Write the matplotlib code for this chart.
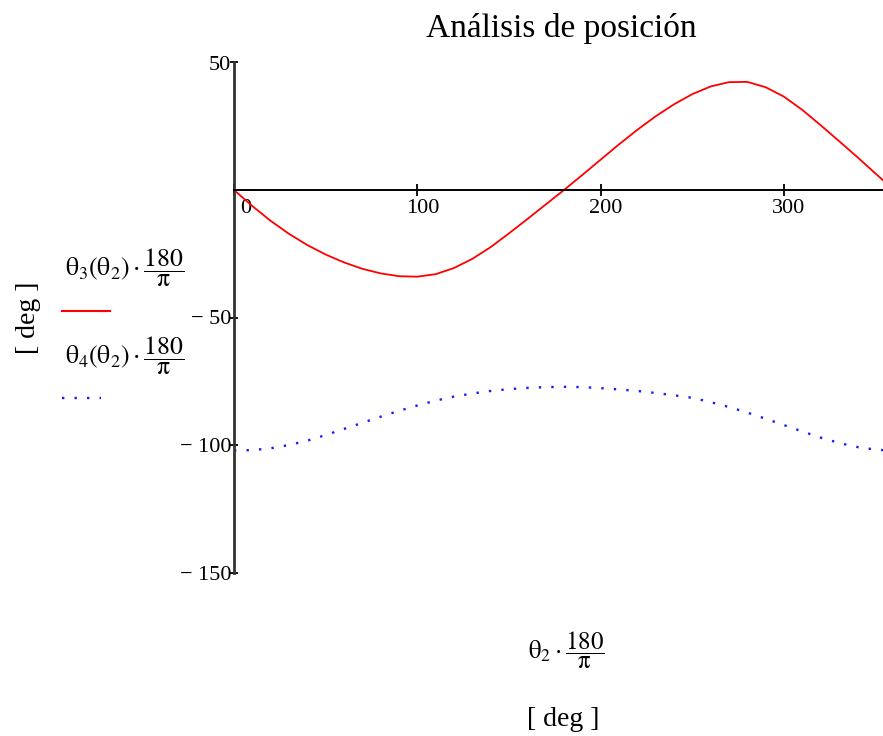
import numpy as np
import matplotlib.pyplot as plt
from matplotlib.lines import Line2D
from matplotlib.transforms import ScaledTranslation

plt.rcParams['font.family'] = ['Liberation Serif', 'DejaVu Serif']
plt.rcParams['mathtext.fontset'] = 'stix'

# theta2 in degrees
theta2 = [0, 10, 20, 30, 40, 50, 60, 70, 80, 90, 100, 110, 120, 130, 140, 150,
          160, 170, 180, 190, 200, 210, 220, 230, 240, 250, 260, 270, 280, 290,
          300, 310, 320, 330, 340, 350, 360]
# theta3 in degrees (red)
theta3 = [0, -6.3, -12.1, -17.2, -21.6, -25.3, -28.4, -30.9, -32.7, -33.8, -34.0,
          -33.0, -30.6, -27.0, -22.4, -17.0, -11.4, -5.7, 0, 5.9, 11.9, 17.9,
          23.6, 28.9, 33.6, 37.6, 40.6, 42.3, 42.4, 40.3, 36.6, 31.4, 25.4,
          19.2, 12.9, 6.4, 0]
# theta4 in degrees (blue)
theta4 = [-102.2, -102.0, -101.3, -100.0, -98.3, -96.1, -93.7, -91.3, -88.9,
          -86.6, -84.5, -82.6, -81.0, -79.8, -78.8, -78.1, -77.6, -77.3, -77.2,
          -77.3, -77.7, -78.2, -78.8, -79.6, -80.5, -81.5, -83.2, -85.1, -87.3,
          -89.7, -92.2, -94.7, -97.1, -99.2, -100.8, -101.8, -102.3]

yticks = [50, -50, -100, -150]
ytick_labels = ['50', '\u2212 50', '\u2212 100', '\u2212 150']
xticks = [0, 100, 200, 300]
xtick_labels = ['0', '100', '200', '300']

W, H = 883, 736
fig = plt.figure(figsize=(W / 100, H / 100), dpi=100)
ax = fig.add_axes([234 / W, 1 - 572.5 / H, (W - 234) / W, 510 / H])

dots = (0, (1, 4.3))
ax.plot(theta2, theta3, color='red', lw=1.3)
ax.plot(theta2, theta4, color='#1a1aff', lw=1.7, linestyle=dots)

ax.set_xlim(0, 354)
ax.set_ylim(-150, 50)

# axes drawn through the origin, Mathcad style
ax.spines['top'].set_visible(False)
ax.spines['right'].set_visible(False)
ax.spines['bottom'].set_position(('data', 0))
ax.spines['bottom'].set_linewidth(1.4)
ax.spines['left'].set_linewidth(2.0)
ax.spines['left'].set_color('#333333')

ax.set_yticks(yticks, ytick_labels)
ax.set_xticks(xticks, xtick_labels)
ax.tick_params(axis='y', direction='inout', length=6, width=1.3, pad=-1,
               labelsize=16)
ax.tick_params(axis='x', direction='inout', length=9, width=1.3, pad=2,
               labelsize=16)

# tick labels sit a little right of their ticks
for lbl in ax.get_xticklabels():
    dx = 12 if lbl.get_text() == '0' else 5
    lbl.set_transform(lbl.get_transform() + ScaledTranslation(dx / 100, 0, fig.dpi_scale_trans))

fig.text(561 / W, 1 - 28 / H, 'Análisis de posición', fontsize=24,
         ha='center', va='center')

# legend on the left
fig.text(65 / W, 1 - 268 / H,
         r'$\mathrm{\theta}_3(\mathrm{\theta}_2)\cdot\dfrac{180}{\mathrm{\pi}}$',
         fontsize=18.5, ha='left', va='center')
fig.add_artist(Line2D([62 / W, 110 / W], [1 - 311 / H, 1 - 311 / H],
                      color='red', lw=1.5))
fig.text(65 / W, 1 - 356 / H,
         r'$\mathrm{\theta}_4(\mathrm{\theta}_2)\cdot\dfrac{180}{\mathrm{\pi}}$',
         fontsize=18.5, ha='left', va='center')
fig.add_artist(Line2D([62 / W, 101 / W], [1 - 398 / H, 1 - 398 / H],
                      color='#1a1aff', lw=1.7, linestyle=dots))
fig.text(29 / W, 1 - 318 / H, '[ deg ]', fontsize=20, rotation=90,
         ha='center', va='center')

# x label
fig.text(566 / W, 1 - 650 / H,
         r'$\mathrm{\theta}_2\cdot\dfrac{180}{\mathrm{\pi}}$',
         fontsize=18, ha='center', va='center')
fig.text(563 / W, 1 - 720 / H, '[ deg ]', fontsize=20, ha='center', va='center')

fig.savefig('out.png', dpi=100)
